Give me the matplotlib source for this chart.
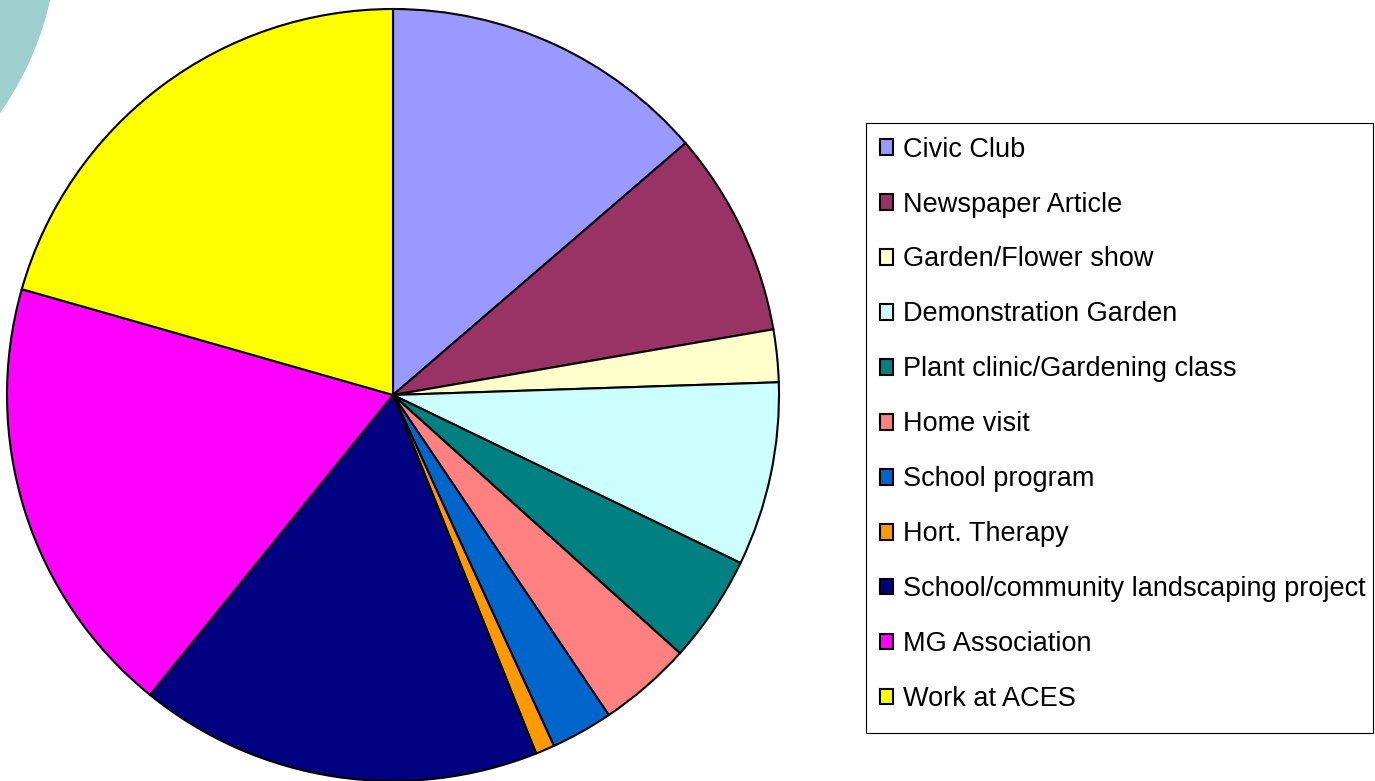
import matplotlib
matplotlib.use("Agg")
import matplotlib.pyplot as plt
from matplotlib.patches import Patch, Ellipse, Rectangle

plt.rcParams['font.family'] = ['Liberation Sans', 'DejaVu Sans']

# share of contacts by activity (percent)
labels = ["Civic Club", "Newspaper Article", "Garden/Flower show",
          "Demonstration Garden", "Plant clinic/Gardening class", "Home visit",
          "School program", "Hort. Therapy", "School/community landscaping project",
          "MG Association", "Work at ACES"]
values = [13.7, 8.6, 2.2, 7.7, 4.5, 3.9, 2.6, 0.8, 16.9, 18.6, 20.6]
colors = ["#9999FF", "#993366", "#FFFFCC", "#CCFFFF", "#008080", "#FF8080",
          "#0066CC", "#FF9900", "#000080", "#FF00FF", "#FFFF00"]

W, H = 1375, 781
fig = plt.figure(figsize=(W / 100, H / 100), dpi=100)

# decorative teal circle in the top-left corner
deco = Ellipse((-260 / W, 1 + 70 / H), 2 * 318 / W, 2 * 318 / H,
               transform=fig.transFigure, facecolor="#9ECECE", edgecolor="none", zorder=0)
fig.patches.append(deco)

ax = fig.add_axes([7 / W, 0, 772 / W, 772 / H])
ax.pie(values, colors=colors, startangle=90, counterclock=False,
       wedgeprops=dict(edgecolor="black", linewidth=1.5))
ax.set_xlim(-1, 1)
ax.set_ylim(-1, 1)
ax.set_aspect("equal")
ax.axis("off")

# legend box drawn separately so it fits the figure like the original
box = Rectangle((866 / W, 1 - 733 / H), (1373 - 866) / W, (733 - 123) / H,
                transform=fig.transFigure, facecolor="white", edgecolor="black",
                linewidth=0.8, zorder=1)
fig.patches.append(box)

handles = [Patch(facecolor=c, edgecolor="black", linewidth=1.5) for c in colors]
leg = fig.legend(handles, labels, loc="upper left",
                 bbox_to_anchor=(866 / W, 1 - 123 / H),
                 fontsize=19.5, frameon=False,
                 handlelength=0.5, handleheight=0.5, handletextpad=0.35,
                 labelspacing=1.07, borderpad=0.5, borderaxespad=0)
leg.set_zorder(2)

fig.savefig("out.png", dpi=100)
